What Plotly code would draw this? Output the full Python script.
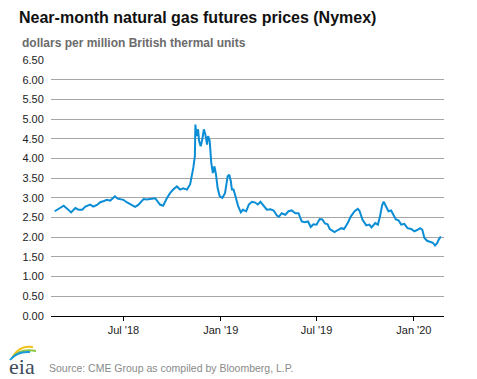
import plotly.graph_objects as go

# ---- data ----
dates = [
    "2018-02-21", "2018-03-01", "2018-03-10", "2018-03-17", "2018-03-24", "2018-04-01", "2018-04-07",
    "2018-04-14", "2018-04-20", "2018-04-29", "2018-05-05", "2018-05-12", "2018-05-18", "2018-05-25",
    "2018-05-31", "2018-06-06", "2018-06-15", "2018-06-20", "2018-06-25", "2018-07-01", "2018-07-07",
    "2018-07-15", "2018-07-23", "2018-07-29", "2018-08-08", "2018-08-14", "2018-08-23", "2018-08-30",
    "2018-09-08", "2018-09-14", "2018-09-21", "2018-09-27", "2018-10-03", "2018-10-10", "2018-10-16",
    "2018-10-22", "2018-10-29", "2018-11-04", "2018-11-10", "2018-11-13", "2018-11-14", "2018-11-16",
    "2018-11-19", "2018-11-21", "2018-11-24", "2018-11-27", "2018-11-30", "2018-12-03", "2018-12-06",
    "2018-12-08", "2018-12-11", "2018-12-14", "2018-12-17", "2018-12-20", "2018-12-23", "2018-12-26",
    "2018-12-30", "2019-01-04", "2019-01-09", "2019-01-14", "2019-01-17", "2019-01-20", "2019-01-22",
    "2019-01-25", "2019-01-28", "2019-01-31", "2019-02-03", "2019-02-08", "2019-02-12", "2019-02-14",
    "2019-02-18", "2019-02-23", "2019-03-01", "2019-03-07", "2019-03-12", "2019-03-17", "2019-03-23",
    "2019-03-29", "2019-04-05", "2019-04-11", "2019-04-17", "2019-04-21", "2019-04-26", "2019-05-03",
    "2019-05-09", "2019-05-15", "2019-05-22", "2019-05-28", "2019-06-03", "2019-06-09", "2019-06-15",
    "2019-06-20", "2019-06-25", "2019-07-01", "2019-07-07", "2019-07-12", "2019-07-17", "2019-07-22",
    "2019-07-26", "2019-08-01", "2019-08-04", "2019-08-11", "2019-08-17", "2019-08-22", "2019-08-29",
    "2019-09-04", "2019-09-11", "2019-09-17", "2019-09-20", "2019-09-26", "2019-10-03", "2019-10-09",
    "2019-10-13", "2019-10-20", "2019-10-25", "2019-10-29", "2019-11-02", "2019-11-05", "2019-11-10",
    "2019-11-14", "2019-11-19", "2019-11-24", "2019-11-28", "2019-12-03", "2019-12-08", "2019-12-14",
    "2019-12-20", "2019-12-27", "2020-01-02", "2020-01-08", "2020-01-13", "2020-01-17", "2020-01-21",
    "2020-01-26", "2020-02-02", "2020-02-06", "2020-02-10", "2020-02-14", "2020-02-17", "2020-02-21",
]
prices = [
    2.66, 2.72, 2.80, 2.72, 2.63, 2.74, 2.70,
    2.70, 2.78, 2.83, 2.78, 2.82, 2.89, 2.92,
    2.95, 2.93, 3.04, 2.98, 2.97, 2.95, 2.89,
    2.82, 2.77, 2.82, 2.97, 2.96, 2.97, 2.99,
    2.83, 2.80, 2.99, 3.12, 3.21, 3.29, 3.21,
    3.24, 3.21, 3.34, 3.76, 4.06, 4.86, 4.57,
    4.74, 4.44, 4.31, 4.48, 4.74, 4.60, 4.35,
    4.57, 4.45, 3.89, 3.63, 3.80, 3.59, 3.25,
    3.04, 3.00, 3.12, 3.55, 3.59, 3.42, 3.21,
    3.21, 3.08, 2.91, 2.78, 2.63, 2.70, 2.68,
    2.66, 2.83, 2.90, 2.88, 2.83, 2.90, 2.80,
    2.70, 2.71, 2.68, 2.55, 2.52, 2.61, 2.57,
    2.66, 2.68, 2.61, 2.61, 2.40, 2.38, 2.40,
    2.26, 2.33, 2.32, 2.46, 2.45, 2.35, 2.33,
    2.21, 2.15, 2.13, 2.19, 2.23, 2.21, 2.36,
    2.53, 2.66, 2.72, 2.68, 2.44, 2.30, 2.32,
    2.25, 2.36, 2.32, 2.53, 2.81, 2.90, 2.76,
    2.66, 2.68, 2.53, 2.45, 2.43, 2.32, 2.34,
    2.23, 2.21, 2.15, 2.19, 2.23, 2.19, 1.98,
    1.91, 1.88, 1.86, 1.79, 1.85, 1.94, 2.02,
]
x_tick_vals = ["2018-07-01", "2019-01-01", "2019-07-01", "2020-01-01"]
x_tick_text = ["Jul '18", "Jan '19", "Jul '19", "Jan '20"]
y_tick_vals = [0, 0.5, 1, 1.5, 2, 2.5, 3, 3.5, 4, 4.5, 5, 5.5, 6, 6.5]

title_text = "Near-month natural gas futures prices (Nymex)"
subtitle_text = "dollars per million British thermal units"
source_text = "Source: CME Group as compiled by Bloomberg, L.P."

# ---- layout geometry (pixels) ----
W, H = 477, 379
L, R, T, B = 51, 33, 60, 63
PW, PH = W - L - R, H - T - B


def px(x):
    return (x - L) / PW


def py(y):
    return (H - B - y) / PH


FONT = "Liberation Sans, Arial, sans-serif"

fig = go.Figure()
fig.add_trace(go.Scatter(
    x=dates, y=prices, mode="lines",
    line=dict(color="#0b8dd6", width=2),
    hoverinfo="x+y",
))

fig.update_layout(
    width=W, height=H,
    margin=dict(l=L, r=R, t=T, b=B),
    paper_bgcolor="white", plot_bgcolor="white",
    showlegend=False,
    font=dict(family=FONT, size=11, color="#222222"),
    title=dict(
        text="<b>" + title_text + "</b>",
        xref="container", yref="container",
        x=19 / W, xanchor="left",
        y=1 - 17 / H, yanchor="middle",
        font=dict(family=FONT, size=16, color="#111111"),
    ),
    xaxis=dict(
        type="date",
        range=["2018-02-14", "2020-02-27"],
        tickvals=x_tick_vals, ticktext=x_tick_text,
        showgrid=False,
        showline=True, linecolor="black", linewidth=1,
        ticks="outside", ticklen=4, tickcolor="black",
        tickfont=dict(family=FONT, size=11, color="#222222"),
        zeroline=False,
    ),
    yaxis=dict(
        range=[0, 6.5],
        tickvals=y_tick_vals, tickformat=".2f",
        showgrid=True, gridcolor="#a6a6a6", gridwidth=1,
        zeroline=True, zerolinecolor="black", zerolinewidth=1,
        showline=False,
        ticks="outside", ticklen=4, tickcolor="rgba(0,0,0,0)",
        tickfont=dict(family=FONT, size=11, color="#222222"),
    ),
)

annotations = [
    dict(text="<b>" + subtitle_text + "</b>", xref="paper", yref="paper",
         x=px(20), y=py(43), xanchor="left", yanchor="middle", showarrow=False,
         font=dict(family=FONT, size=12, color="#6b6b6b")),
    dict(text=source_text, xref="paper", yref="paper",
         x=px(47), y=py(368), xanchor="left", yanchor="middle", showarrow=False,
         font=dict(family=FONT, size=10.5, color="#8a8a8a")),
    dict(text="eia", xref="paper", yref="paper",
         x=px(7), y=py(366), xanchor="left", yanchor="middle", showarrow=False,
         font=dict(family="Liberation Serif, Times New Roman, serif", size=22, color="#3d4b5c")),
]
fig.update_layout(annotations=annotations)

# logo swooshes
def arc(x0, y0, cx, cy, x1, y1):
    return f"M {px(x0)} {py(y0)} Q {px(cx)} {py(cy)} {px(x1)} {py(y1)}"

shapes = [
    dict(type="path", xref="paper", yref="paper", path=arc(13, 356, 20, 345, 33, 347),
         line=dict(color="#f2c21b", width=2)),
    dict(type="path", xref="paper", yref="paper", path=arc(12, 358, 20, 348, 36, 351),
         line=dict(color="#8cc63e", width=2)),
    dict(type="path", xref="paper", yref="paper", path=arc(10, 360, 17, 351, 30, 352),
         line=dict(color="#1b9ad6", width=2)),
]
fig.update_layout(shapes=shapes)

fig.write_html(
    "out.html",
    config={"displayModeBar": False},
    post_script="document.body.style.margin='0';document.body.style.overflow='hidden';",
)
